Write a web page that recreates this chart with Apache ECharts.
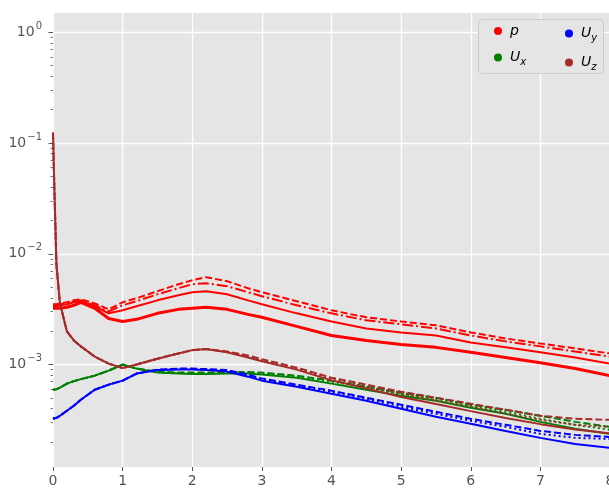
<!DOCTYPE html>
<html><head><meta charset="utf-8">
<script src="https://cdn.jsdelivr.net/npm/echarts@6/dist/echarts.min.js"></script>
<style>html,body{margin:0;padding:0;background:#fff}#c{width:609px;height:489px}</style>
</head><body><div id="c"></div>
<script>
// time (x axis)
const time = [0,0.02,0.05,0.1,0.2,0.3,0.4,0.6,0.8,1.0,1.2,1.5,1.8,2.0,2.2,2.5,2.8,3.0,3.5,4.0,4.5,5.0,5.5,6.0,6.5,7.0,7.5,8.0];

// p residuals
const p_solid   = [0.00336,0.00336,0.00336,0.00343,0.00350,0.00365,0.00373,0.00336,0.00290,0.00309,0.00336,0.00380,0.00422,0.00450,0.00459,0.00431,0.00380,0.00350,0.00290,0.00245,0.00212,0.00195,0.00183,0.00158,0.00143,0.00129,0.00116,0.00102];
const p_dashed  = [0.00350,0.00350,0.00350,0.00357,0.00365,0.00380,0.00388,0.00357,0.00315,0.00365,0.00397,0.00459,0.00531,0.00577,0.00615,0.00566,0.00489,0.00450,0.00373,0.00309,0.00267,0.00245,0.00226,0.00195,0.00172,0.00155,0.00140,0.00126];
const p_dashdot = [0.00343,0.00343,0.00343,0.00350,0.00357,0.00373,0.00380,0.00343,0.00302,0.00343,0.00373,0.00431,0.00489,0.00531,0.00542,0.00510,0.00450,0.00414,0.00343,0.00290,0.00251,0.00231,0.00212,0.00183,0.00162,0.00146,0.00131,0.00118];
const p_dotted  = [0.00322,0.00322,0.00322,0.00322,0.00329,0.00343,0.00365,0.00322,0.00261,0.00245,0.00256,0.00290,0.00315,0.00322,0.00329,0.00315,0.00284,0.00267,0.00221,0.00183,0.00165,0.00152,0.00143,0.00129,0.00116,0.00104,0.00092,0.000795];

// Ux residuals
const ux_solid  = [0.000593,0.000593,0.000600,0.000619,0.000673,0.000709,0.000739,0.000795,0.000882,0.00100,0.000920,0.000846,0.000829,0.000820,0.000820,0.000829,0.000829,0.000812,0.000762,0.000673,0.000593,0.000524,0.000472,0.000408,0.000360,0.000304,0.000263,0.000237];
const ux_dashed = [0.000593,0.000593,0.000600,0.000619,0.000673,0.000709,0.000739,0.000795,0.000882,0.00100,0.000920,0.000864,0.000846,0.000846,0.000846,0.000855,0.000855,0.000846,0.000795,0.000716,0.000632,0.000557,0.000502,0.000434,0.000391,0.000345,0.000304,0.000274];
const ux_dotted = [0.000593,0.000593,0.000600,0.000619,0.000673,0.000709,0.000739,0.000795,0.000882,0.00100,0.000920,0.000855,0.000838,0.000829,0.000829,0.000838,0.000838,0.000829,0.000778,0.000701,0.000619,0.000546,0.000492,0.000425,0.000375,0.000324,0.000286,0.000258];

// Uy residuals
const uy_solid  = [0.000324,0.000324,0.000331,0.000345,0.000383,0.000425,0.000482,0.000593,0.000659,0.000716,0.000829,0.000892,0.000901,0.000901,0.000892,0.000864,0.000778,0.000716,0.000632,0.000546,0.000472,0.000399,0.000338,0.000292,0.000252,0.000218,0.000192,0.000177];
const uy_dashed = [0.000324,0.000324,0.000331,0.000345,0.000383,0.000425,0.000482,0.000593,0.000659,0.000716,0.000829,0.000901,0.000920,0.000920,0.000910,0.000892,0.000812,0.000747,0.000659,0.000581,0.000502,0.000434,0.000375,0.000324,0.000286,0.000252,0.000232,0.000222];
const uy_dotted = [0.000324,0.000324,0.000331,0.000345,0.000383,0.000425,0.000482,0.000593,0.000659,0.000716,0.000829,0.000892,0.000910,0.000910,0.000901,0.000878,0.000795,0.000731,0.000645,0.000569,0.000492,0.000416,0.000360,0.000311,0.000274,0.000237,0.000218,0.000213];

// Uz residuals
const uz_solid  = [0.124,0.0378,0.0079,0.00357,0.00199,0.00165,0.00146,0.00118,0.00102,0.00093,0.00100,0.00113,0.00126,0.00135,0.00138,0.00129,0.00116,0.00107,0.00090,0.00072,0.00061,0.00051,0.00044,0.00038,0.00033,0.00029,0.00026,0.00024];
const uz_dashed = [0.124,0.0378,0.0079,0.00357,0.00199,0.00165,0.00146,0.00118,0.00102,0.00093,0.00100,0.00113,0.00126,0.00135,0.00138,0.00131,0.00121,0.00112,0.000939,0.000762,0.000659,0.000569,0.000502,0.000443,0.000391,0.000345,0.000324,0.000317];
const uz_dotted = [0.124,0.0378,0.0079,0.00357,0.00199,0.00165,0.00146,0.00118,0.00102,0.00093,0.00100,0.00113,0.00126,0.00135,0.00138,0.00130,0.00118,0.00109,0.000920,0.000747,0.000632,0.000546,0.000472,0.000416,0.000360,0.000317,0.000286,0.000274];

// axis ticks
const xTicks = [0,1,2,3,4,5,6,7,8];
const yMajor = [0.001,0.01,0.1,1];
const yMinor = [0.0002,0.0003,0.0004,0.0005,0.0006,0.0007,0.0008,0.0009,
                0.002,0.003,0.004,0.005,0.006,0.007,0.008,0.009,
                0.02,0.03,0.04,0.05,0.06,0.07,0.08,0.09,
                0.2,0.3,0.4,0.5,0.6,0.7,0.8,0.9];

const colors = {p:'#FF0000', Ux:'#008000', Uy:'#0000FF', Uz:'#A52A2A'};

const FONT = 'DejaVu Sans';
function mk(name, arr, type, width){
  return {
    name: name, type: 'line', xAxisIndex:0, yAxisIndex:0,
    data: time.map((t,i)=>[t, arr[i]]),
    showSymbol:false, symbol:'none', silent:true, animation:false,
    lineStyle:{color:colors[name], width:width||2, type:type},
    itemStyle:{color:colors[name]}
  };
}
const DASH = [7,3], DASHDOT = [11,3,2,3], DOT = [2,3];
const series = [
  mk('p', p_solid, 'solid', 2),
  mk('p', p_dotted, 'solid', 3),
  mk('p', p_dashdot, DASHDOT, 2),
  mk('p', p_dashed, DASH, 2),
  mk('Ux', ux_solid, 'solid', 2),
  mk('Ux', ux_dotted, DOT, 2),
  mk('Ux', ux_dashed, DASH, 2),
  mk('Uy', uy_solid, 'solid', 2),
  mk('Uy', uy_dotted, DOT, 2),
  mk('Uy', uy_dashed, DASH, 2),
  mk('Uz', uz_solid, 'solid', 2),
  mk('Uz', uz_dotted, DOT, 2),
  mk('Uz', uz_dashed, DASH, 2)
];

const legendRich = {
  i:{fontFamily:FONT, fontStyle:'italic', fontSize:14, color:'#000', lineHeight:18, padding:[0,0,0,3]},
  s:{fontFamily:FONT, fontStyle:'italic', fontSize:10, color:'#000', lineHeight:12, padding:[9,0,0,0]}
};
function legendFmt(n){
  if(n === 'p') return '{i|p}';
  return '{i|U}{s|' + n.slice(1) + '}';
}
const legendCommon = {
  orient:'vertical', top:24, itemWidth:8, itemHeight:8, icon:'circle', itemGap:10,
  selectedMode:false, z:10, padding:0,
  formatter: legendFmt,
  textStyle:{rich: legendRich, fontFamily:FONT},
  itemStyle:{borderWidth:0}
};

const chart = echarts.init(document.getElementById('c'), null, {renderer:'canvas'});
chart.setOption({
  animation:false,
  backgroundColor:'#ffffff',
  grid:{left:53, top:13, width:557, height:454, show:true, backgroundColor:'#E5E5E5', borderWidth:0, containLabel:false, outerBoundsMode:'none'},
  xAxis:{
    type:'value', min:0, max:8, interval:1,
    axisLine:{show:false},
    axisTick:{show:true, length:4, lineStyle:{color:'#555555', width:1}, customValues:xTicks},
    axisLabel:{color:'#555555', fontSize:14, fontFamily:FONT, margin:7, customValues:xTicks, showMinLabel:true, showMaxLabel:true},
    splitLine:{show:true, lineStyle:{color:'#FFFFFF', width:1.3}}
  },
  yAxis:[{
    type:'log', logBase:10, min:1.19e-4, max:1.49,
    axisLine:{show:false},
    axisTick:{show:true, length:4.5, lineStyle:{color:'#555555', width:1}, customValues:yMajor},
    axisLabel:{
      customValues:yMajor, margin:11, color:'#555555', fontFamily:FONT,
      formatter:function(v){
        const e = Math.round(Math.log10(v));
        return '{b|10}{e|' + (e<0 ? '\u2212' + (-e) : e) + '}';
      },
      rich:{
        b:{fontSize:14, color:'#555555', fontFamily:FONT, lineHeight:16},
        e:{fontSize:10, color:'#555555', fontFamily:FONT, lineHeight:12, padding:[0,0,12,1]}
      }
    },
    splitLine:{show:true, lineStyle:{color:'#FFFFFF', width:1.3}}
  },{
    type:'log', logBase:10, min:1.19e-4, max:1.49, position:'left',
    axisLine:{show:false},
    axisTick:{show:true, length:2.5, lineStyle:{color:'#555555', width:0.8}, customValues:yMinor},
    axisLabel:{show:false},
    splitLine:{show:false}
  }],
  graphic:[{
    type:'rect', left:478, top:19, z:8,
    shape:{width:125, height:54, r:4},
    style:{fill:'#E5E5E5', stroke:'#CCCCCC', lineWidth:1}
  }],
  legend:[
    Object.assign({}, legendCommon, {data:['p','Ux'], left:494}),
    Object.assign({}, legendCommon, {data:['Uy','Uz'], left:565})
  ],
  series: series
});
</script>
</body></html>
